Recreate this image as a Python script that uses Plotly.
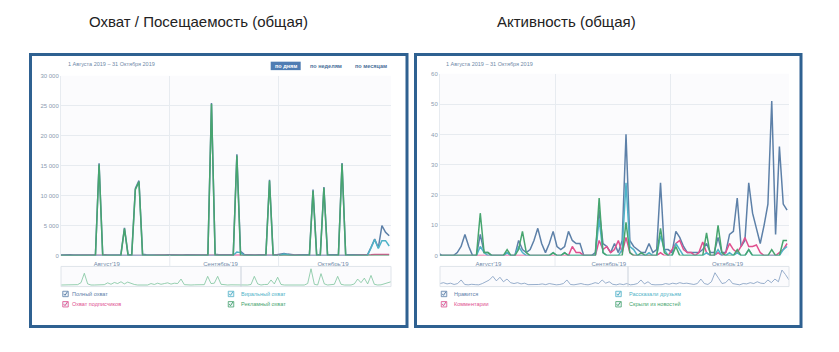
import plotly.graph_objects as go
import pandas as pd

W, H = 839, 352

# ---------------- data ----------------
days = pd.date_range("2019-08-01 12:00", periods=92, freq="D")

reach_total = [120, 150, 100, 130, 90, 110, 140, 100, 120, 150, 130, 15400, 200, 150, 120, 100,
               130, 110, 4650, 160, 140, 11200, 12500, 220, 150, 120, 100, 140, 130, 110, 150,
               120, 100, 130, 110, 140, 120, 100, 150, 130, 110, 120, 25450, 250, 130, 110, 140,
               120, 160, 16900, 700, 200, 150, 130, 110, 140, 120, 130, 12650, 180, 140, 200, 350,
               250, 150, 120, 130, 110, 140, 150, 11000, 180, 140, 11450, 170, 130, 120, 140, 15450,
               160, 130, 120, 140, 110, 130, 150, 1400, 2750, 1300, 5000, 3900, 3300]
reach_subs = [40, 50, 30, 45, 30, 35, 50, 30, 40, 50, 45, 60, 55, 50, 40, 30, 45, 35, 50, 50,
              45, 60, 60, 55, 45, 40, 30, 45, 40, 35, 50, 40, 30, 45, 35, 45, 40, 30, 50, 45,
              35, 40, 70, 60, 40, 35, 45, 40, 50, 80, 90, 60, 50, 40, 35, 45, 40, 45, 70, 55,
              45, 60, 90, 70, 50, 40, 45, 35, 45, 50, 60, 55, 45, 60, 50, 40, 40, 45, 60, 50,
              40, 40, 45, 35, 40, 50, 150, 200, 180, 220, 200, 180]
reach_viral = [10, 20, 5, 15, 5, 10, 20, 5, 10, 20, 15, 40, 30, 20, 10, 5, 15, 10, 30, 20,
               15, 40, 40, 30, 15, 10, 5, 15, 10, 10, 20, 10, 5, 15, 10, 15, 10, 5, 20, 15,
               10, 10, 60, 40, 15, 10, 15, 10, 40, 600, 500, 60, 30, 15, 10, 15, 10, 15, 50, 30,
               15, 60, 280, 120, 30, 10, 15, 10, 15, 20, 40, 30, 15, 40, 30, 10, 10, 15, 40, 20,
               10, 10, 15, 10, 10, 20, 1300, 2700, 1200, 2500, 2500, 1600]
reach_ads = [0, 0, 0, 0, 0, 0, 0, 0, 0, 0, 0, 15200, 0, 0, 0, 0, 0, 0, 4500, 0,
             0, 11000, 12300, 0, 0, 0, 0, 0, 0, 0, 0, 0, 0, 0, 0, 0, 0, 0, 0, 0,
             0, 0, 25300, 0, 0, 0, 0, 0, 0, 16700, 0, 0, 0, 0, 0, 0, 0, 0, 12500, 0,
             0, 0, 0, 0, 0, 0, 0, 0, 0, 0, 10800, 0, 0, 11300, 0, 0, 0, 0, 15300, 0,
             0, 0, 0, 0, 0, 0, 0, 0, 0, 0, 0, 0]

likes = [1, 0, 0, 0, 0, 1, 3, 7, 3, 0, 0, 7, 1, 1, 0, 0, 0, 0, 1, 0,
         0, 5, 2, 1, 2, 5, 9, 4, 1, 4, 8, 3, 2, 3, 8, 5, 4, 4, 0, 0,
         0, 1, 15, 4, 3, 1, 4, 1, 5, 40, 5, 3, 2, 1, 1, 4, 1, 2, 24, 2,
         2, 1, 8, 6, 3, 1, 1, 1, 1, 2, 4, 1, 1, 6, 1, 1, 7, 8, 19, 3,
         5, 24, 14, 9, 4, 10, 17, 51, 7, 36, 17, 15]
comments = [0, 0, 0, 0, 0, 0, 0, 0, 0, 0, 0, 0, 0, 0, 0, 0, 0, 0, 0, 0,
            0, 0, 0, 0, 0, 0, 0, 0, 0, 0, 0, 0, 0, 0, 0, 3, 1, 1, 0, 0,
            0, 0, 5, 2, 3, 1, 2, 5, 1, 6, 1, 0, 0, 0, 0, 0, 0, 0, 1, 0,
            0, 2, 4, 5, 2, 1, 1, 0, 1, 4.5, 1, 0, 0, 1, 0, 1, 4, 2, 1, 3,
            6, 3, 3, 3.5, 1, 0, 0, 0, 0, 1, 2, 4]
shares = [0, 0, 0, 0, 0, 0, 0, 0, 0, 0, 0, 3, 1, 0, 0, 0, 0, 0, 1, 0,
          0, 3, 1, 0, 0, 0, 0, 0, 0, 0, 1, 0, 0, 1, 0, 0, 0, 0, 0, 0,
          0, 0, 12, 1, 0, 0, 0, 0, 2, 24, 3, 2, 0, 0, 0, 1, 0, 0, 6.6, 2,
          0, 0, 4, 2, 0, 0, 0, 0, 0, 0, 1, 0, 0, 2, 0, 0, 1, 0, 1, 0,
          0, 2, 0, 0, 0, 0, 0, 0, 0, 0, 2, 3]
hidden = [0, 0, 0, 0, 0, 0, 0, 0, 0, 0, 0, 14, 1, 1, 0, 0, 0, 0, 2, 0,
          0, 2, 8, 1, 0, 0, 0, 0, 0, 0, 1, 0, 0, 1, 0, 0, 0, 0, 0, 0,
          0, 0, 19, 1, 0, 0, 0, 0, 0, 11, 1, 0, 0, 1, 0, 0, 0, 0, 9, 1,
          0, 0, 3, 0, 0, 0, 0, 0, 0, 0, 7.5, 0, 0, 10, 1, 0, 0, 0, 2, 0,
          0, 2, 0, 0, 0, 0, 0, 2, 0, 0, 5, 5]

nav_reach = [.02, .02, .03, .02, .02, .04, .15, .67, .08, .02, .02, .03, .02, .04, .14, .06, .16, .1, .2, .08,
             .18, .1, .05, .02, .02, .03, .02, .1, .05, .12, .06, .1, .14, .07, .12, .1, .35, .04, .02, .02,
             .03, .02, .02, .04, .5, .1, .12, .5, .06, .02, .02, .03, .02, .02, .03, .02, .02, .05, .5, .08,
             .02, .05, .05, .3, .08, .45, .05, .02, .02, .03, .02, .02, .03, .02, .1, .92, .06, .02, .65, .08,
             .02, .03, .06, .5, .06, .02, .03, .02, .08, .35, .15, .4, .08, .55, .06, .02, .03, .1, .15, .2]
nav_activity = [.1, .15, .08, .12, .05, .1, .3, .05, .03, .06, .04, .03, .1, .2, .3, .5, .25, .45, .2, .35,
                .15, .1, .15, .08, .12, .04, .03, .02, .05, .08, .04, .1, .06, .03, .05, .1, .3, .05, .03, .08,
                .1, .05, .03, .08, .15, .1, .3, .12, .2, .06, .03, .08, .04, .1, .03, .05, .1, .3, .08, .2,
                .05, .03, .02, .04, .1, .06, .12, .08, .15, .1, .12, .08, .05, .1, .35, .1, .05, .2, .7, .4,
                .1, .15, .35, .1, .05, .03, .1, .08, .15, .1, .2, .12, .1, .3, .15, .35, .2, .85, .6, .3]

titles = ["Охват / Посещаемость (общая)", "Активность (общая)"]
period_text = "1 Августа 2019 – 31 Октября 2019"
buttons = ["по дням", "по неделям", "по месяцам"]
month_ticks = ["2019-08-14 15:00", "2019-09-15", "2019-10-16"]
month_labels = ["Август'19", "Сентябрь'19", "Октябрь'19"]
month_bounds = ["2019-09-01", "2019-10-01"]
reach_ticks = [0, 5000, 10000, 15000, 20000, 25000, 30000]
act_ticks = [0, 10, 20, 30, 40, 50, 60]
legend_reach = ["Полный охват", "Охват подписчиков", "Виральный охват", "Рекламный охват"]
legend_act = ["Нравится", "Комментарии", "Рассказали друзьям", "Скрыли из новостей"]

# ---------------- styling ----------------
C_BLUE = "#5d80a8"
C_PINK = "#e0508f"
C_TEAL = "#4fb3c8"
C_GREEN = "#47a56f"
FRAME = "#2f6191"
GRID = "#e7ebf0"
TXT = "#6f89a8"
FONT = "Liberation Sans"


def fx(p):
    return p / W


def fy(p):
    return 1 - p / H


fig = go.Figure()

for vals, col, name in [(reach_total, C_BLUE, legend_reach[0]), (reach_subs, C_PINK, legend_reach[1]),
                        (reach_viral, C_TEAL, legend_reach[2]), (reach_ads, C_GREEN, legend_reach[3])]:
    fig.add_trace(go.Scatter(x=days, y=vals, mode="lines", name=name, line=dict(color=col, width=1.5),
                             xaxis="x", yaxis="y", showlegend=False))
for vals, col, name in [(likes, C_BLUE, legend_act[0]), (comments, C_PINK, legend_act[1]),
                        (shares, C_TEAL, legend_act[2]), (hidden, C_GREEN, legend_act[3])]:
    fig.add_trace(go.Scatter(x=days, y=vals, mode="lines", name=name, line=dict(color=col, width=1.5),
                             xaxis="x2", yaxis="y2", showlegend=False))
fig.add_trace(go.Scatter(x=list(range(len(nav_reach))), y=nav_reach, mode="lines",
                         line=dict(color="#7cc49c", width=0.8), xaxis="x3", yaxis="y3", showlegend=False))
fig.add_trace(go.Scatter(x=list(range(len(nav_activity))), y=nav_activity, mode="lines",
                         line=dict(color="#7d9bbf", width=0.8), xaxis="x4", yaxis="y4", showlegend=False))

xcommon = dict(type="date", range=["2019-08-02", "2019-11-01"], tickmode="array", tickvals=month_ticks,
               ticktext=month_labels, showgrid=False, ticks="", zeroline=False,
               tickfont=dict(family=FONT, size=6, color=TXT), ticklabelstandoff=3,
               minor=dict(tickmode="array", tickvals=month_bounds, showgrid=True, gridcolor=GRID,
                          gridwidth=1, ticks=""),
               showline=False)
ycommon = dict(showgrid=True, gridcolor=GRID, gridwidth=1, ticks="", zeroline=False, showline=True,
               linecolor=GRID, tickfont=dict(family=FONT, size=6, color="#8b9bb0"), tickmode="array")

fig.update_layout(
    width=W, height=H, margin=dict(l=0, r=0, t=0, b=0),
    paper_bgcolor="white", plot_bgcolor="#fbfbfd",
    separators=", ",
    xaxis=dict(xcommon, domain=[fx(61), fx(391)], anchor="y"),
    yaxis=dict(ycommon, domain=[fy(257), fy(74)], range=[0, 30000], tickvals=reach_ticks,
               tickformat=",d", anchor="x"),
    xaxis2=dict(xcommon, domain=[fx(440), fx(789)], anchor="y2"),
    yaxis2=dict(ycommon, domain=[fy(257), fy(72)], range=[0, 60], tickvals=act_ticks, anchor="x2"),
    xaxis3=dict(domain=[fx(61), fx(391)], range=[0, len(nav_reach) - 1], visible=False, anchor="y3"),
    yaxis3=dict(domain=[fy(288), fy(268)], range=[-0.04, 1.05], visible=False, anchor="x3"),
    xaxis4=dict(domain=[fx(440), fx(789)], range=[0, len(nav_activity) - 1], visible=False, anchor="y4"),
    yaxis4=dict(domain=[fy(288), fy(268)], range=[-0.04, 1.05], visible=False, anchor="x4"),
)

shapes = []
ann = []

for x0, x1 in [(30.5, 407), (415.5, 801)]:
    shapes.append(dict(type="rect", xref="paper", yref="paper", x0=fx(x0), x1=fx(x1), y0=fy(329),
                       y1=fy(52.5), line=dict(color=FRAME, width=3)))
for x0, x1, xd in [(61, 391, 241), (440, 789, 628)]:
    shapes.append(dict(type="rect", xref="paper", yref="paper", x0=fx(x0), x1=fx(x1), y0=fy(288.5),
                       y1=fy(268), line=dict(color="#dfe4ea", width=1)))
    shapes.append(dict(type="line", xref="paper", yref="paper", x0=fx(xd), x1=fx(xd), y0=fy(288.5),
                       y1=fy(268), line=dict(color="#c9d1db", width=1)))
for xr in ["x", "x2"]:
    for b in month_bounds:
        shapes.append(dict(type="line", xref=xr, yref="paper", x0=b, x1=b, y0=fy(268), y1=fy(257),
                           line=dict(color=GRID, width=1)))


def text(t, x, y, size, color, xanchor="center", family=FONT):
    ann.append(dict(text=t, x=fx(x), y=fy(y), xref="paper", yref="paper", showarrow=False,
                    xanchor=xanchor, yanchor="middle", font=dict(family=family, size=size, color=color)))


text(titles[0], 198, 19, 15, "#222222")
text(titles[1], 566, 19, 15, "#222222")
for x in [66, 443.5]:
    text(period_text, x, 62, 5.5, TXT, xanchor="left")

shapes.append(dict(type="rect", xref="paper", yref="paper", x0=fx(270.7), x1=fx(300.7), y0=fy(68.3),
                   y1=fy(59.7), line=dict(width=0), fillcolor="#4f7db3", layer="below"))
for t, cx, col in [(buttons[0], 285.7, "#ffffff"), (buttons[1], 325.5, "#4a6f99"), (buttons[2], 371, "#4a6f99")]:
    text("<b>" + t + "</b>", cx, 64, 5.5, col)


def checkbox(cx, cy, color):
    s = 5.5
    shapes.append(dict(type="rect", xref="paper", yref="paper", x0=fx(cx - s / 2), x1=fx(cx + s / 2),
                       y0=fy(cy + s / 2), y1=fy(cy - s / 2), line=dict(color=color, width=0.8),
                       fillcolor="#eef3f8"))
    pts = [(cx - 1.8, cy - 0.1), (cx - 0.5, cy + 1.4), (cx + 2.0, cy - 2.4)]
    path = "M {} {} L {} {} L {} {}".format(fx(pts[0][0]), fy(pts[0][1]), fx(pts[1][0]), fy(pts[1][1]),
                                          fx(pts[2][0]), fy(pts[2][1]))
    shapes.append(dict(type="path", xref="paper", yref="paper", path=path, line=dict(color=color, width=1)))


legend_layout = [
    (legend_reach, [C_BLUE, C_PINK, C_TEAL, C_GREEN], [(65.5, 296), (65.5, 306.5), (231, 296), (231, 306.5)],
     [70, 70, 238.5, 238.5]),
    (legend_act, [C_BLUE, C_PINK, C_TEAL, C_GREEN], [(444, 296), (444, 306.5), (618.5, 296), (618.5, 306.5)],
     [452, 452, 626.5, 626.5]),
]
for labels, cols, boxes, tx in legend_layout:
    for lab, col, (bx, by), t in zip(labels, cols, boxes, tx):
        checkbox(bx, by, col)
        text(lab, t, by, 5.5, col, xanchor="left")

fig.update_layout(shapes=shapes, annotations=ann)
fig.write_html("out.html")
